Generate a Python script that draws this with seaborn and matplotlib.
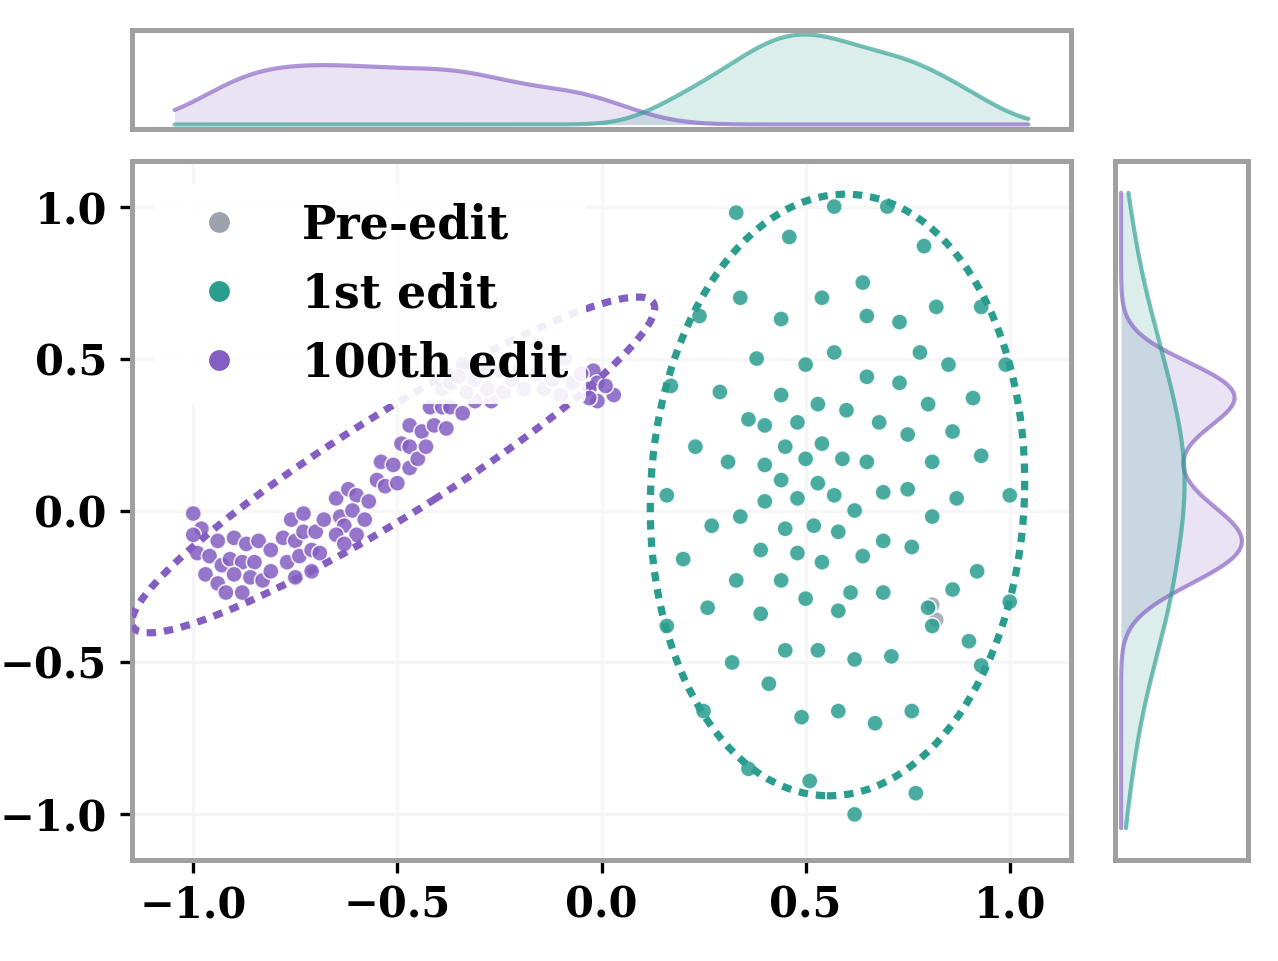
import pandas as pd
import seaborn as sns
import matplotlib.pyplot as plt
from matplotlib.patches import Ellipse
from matplotlib.lines import Line2D

# point clouds
pre_x = [0.81, 0.82]
pre_y = [-0.31, -0.36]

first_x = [0.33, 0.57, 0.70, 0.46, 0.79, 0.64, 0.34, 0.54, 0.82, 0.93,
           0.24, 0.44, 0.65, 0.73, 0.38, 0.57, 0.78, 0.50, 0.85, 0.99,
           0.17, 0.65, 0.73, 0.29, 0.44, 0.91, 0.53, 0.80, 0.60, 0.36,
           0.40, 0.48, 0.68, 0.75, 0.86, 0.23, 0.45, 0.54, 0.93, 0.31,
           0.40, 0.50, 0.59, 0.65, 0.81, 0.44, 0.53, 0.16, 0.40, 0.48,
           0.57, 0.69, 0.75, 0.87, 1.00, 0.62, 0.34, 0.27, 0.45, 0.52,
           0.81, 0.58, 0.69, 0.39, 0.48, 0.76, 0.20, 0.54, 0.64, 0.33,
           0.44, 0.92, 0.61, 0.69, 0.86, 0.50, 0.26, 0.39, 0.58, 0.80,
           0.81, 1.00, 0.16, 0.90, 0.45, 0.53, 0.62, 0.71, 0.32, 0.93,
           0.41, 0.25, 0.49, 0.58, 0.67, 0.76, 0.36, 0.51, 0.77, 0.62]
first_y = [0.98, 1.00, 1.00, 0.90, 0.87, 0.75, 0.70, 0.70, 0.67, 0.67,
           0.64, 0.63, 0.64, 0.62, 0.50, 0.52, 0.52, 0.48, 0.48, 0.48,
           0.41, 0.44, 0.42, 0.39, 0.38, 0.37, 0.35, 0.35, 0.33, 0.30,
           0.28, 0.29, 0.29, 0.25, 0.26, 0.21, 0.21, 0.22, 0.18, 0.16,
           0.15, 0.17, 0.17, 0.16, 0.16, 0.10, 0.09, 0.05, 0.03, 0.04,
           0.05, 0.06, 0.07, 0.04, 0.05, 0.00, -0.02, -0.05, -0.06, -0.05,
           -0.02, -0.07, -0.10, -0.13, -0.14, -0.12, -0.16, -0.17, -0.15, -0.23,
           -0.23, -0.20, -0.27, -0.27, -0.26, -0.29, -0.32, -0.34, -0.33, -0.32,
           -0.38, -0.30, -0.38, -0.43, -0.46, -0.46, -0.49, -0.48, -0.50, -0.51,
           -0.57, -0.66, -0.68, -0.66, -0.70, -0.66, -0.85, -0.89, -0.93, -1.00]

hundredth_x = [-1.00, -0.98, -1.00, -0.99, -0.94, -0.96, -0.93, -0.97, -0.94, -0.92,
               -0.90, -0.87, -0.84, -0.91, -0.88, -0.85, -0.81, -0.90, -0.86, -0.83,
               -0.81, -0.88, -0.78, -0.76, -0.73, -0.75, -0.73, -0.70, -0.77, -0.74,
               -0.71, -0.69, -0.75, -0.71, -0.68, -0.65, -0.62, -0.60, -0.57, -0.64,
               -0.61, -0.58, -0.63, -0.65, -0.60, -0.63, -0.55, -0.53, -0.50, -0.54,
               -0.51, -0.47, -0.49, -0.47, -0.47, -0.44, -0.45, -0.42, -0.39, -0.37,
               -0.34, -0.31, -0.27, -0.41, -0.38, -0.43, -0.02, -0.01, -0.03, 0.03,
               -0.01, 0.01, -0.03, -0.39, -0.37, -0.33, -0.31, -0.34, -0.28, -0.28,
               -0.24, -0.22, -0.19, -0.16, -0.14, -0.12, -0.10, -0.09, -0.07, -0.25,
               -0.20, -0.05, -0.35]
hundredth_y = [-0.01, -0.06, -0.08, -0.14, -0.10, -0.15, -0.18, -0.21, -0.24, -0.27,
               -0.09, -0.11, -0.10, -0.16, -0.17, -0.17, -0.13, -0.21, -0.22, -0.23,
               -0.20, -0.27, -0.09, -0.03, -0.01, -0.10, -0.07, -0.07, -0.17, -0.15,
               -0.13, -0.14, -0.22, -0.20, -0.03, 0.04, 0.07, 0.05, 0.03, -0.02,
               0.00, -0.03, -0.05, -0.08, -0.08, -0.11, 0.10, 0.08, 0.09, 0.16,
               0.15, 0.14, 0.22, 0.21, 0.28, 0.26, 0.17, 0.34, 0.34, 0.34,
               0.32, 0.36, 0.36, 0.28, 0.27, 0.21, 0.46, 0.42, 0.40, 0.38,
               0.36, 0.41, 0.37, 0.40, 0.42, 0.39, 0.43, 0.48, 0.46, 0.40,
               0.39, 0.43, 0.40, 0.45, 0.40, 0.43, 0.38, 0.50, 0.42, 0.46,
               0.47, 0.45, 0.44]

labels = ['Pre-edit', '1st edit', '100th edit']
colors = ['#9ca3af', '#2a9d8f', '#845ec2']
palette = dict(zip(labels, colors))

df = pd.concat([
    pd.DataFrame({'x': pre_x, 'y': pre_y, 'group': labels[0]}),
    pd.DataFrame({'x': first_x, 'y': first_y, 'group': labels[1]}),
    pd.DataFrame({'x': hundredth_x, 'y': hundredth_y, 'group': labels[2]}),
], ignore_index=True)
df_marg = df[df.group != labels[0]]

sns.set_theme(style='ticks')
plt.rcParams['font.family'] = ['DejaVu Serif']
plt.rcParams['font.weight'] = 'bold'
plt.rcParams['text.color'] = 'black'
plt.rcParams['xtick.color'] = 'black'
plt.rcParams['ytick.color'] = 'black'

W, H = 1278, 961
fig = plt.figure(figsize=(W / 200, H / 200), dpi=200)
ax = fig.add_axes([132 / W, 1 - 860 / H, 939 / W, 699 / H])
ax_top = fig.add_axes([132 / W, 1 - 129 / H, 939 / W, 99 / H])
ax_right = fig.add_axes([1115 / W, 1 - 860 / H, 133 / W, 699 / H])

# main scatter
ax.grid(True, color='#f6f6f6', lw=1.2)
ax.set_axisbelow(True)
sns.scatterplot(data=df, x='x', y='y', hue='group', palette=palette, s=34,
                alpha=0.85, edgecolor='white', linewidth=0.6, legend=False, ax=ax)

# dotted ellipses around the two edit clusters
ax.add_patch(Ellipse((0.578, 0.051), 0.916, 1.98, angle=-1.5, fill=False,
                     ls=(0, (1.3, 1.1)), lw=2.6, edgecolor=colors[1], zorder=3))
ax.add_patch(Ellipse((-0.51, 0.15), 1.664, 0.303, angle=40.5, fill=False,
                     ls=(0, (1.3, 1.1)), lw=2.6, edgecolor=colors[2], zorder=3))

# marginal densities (own limits, common grid clipped to +-1.1)
hue_order = labels[1:]
for axm, var in [(ax_top, 'x'), (ax_right, 'y')]:
    kw = {var: var}
    sns.kdeplot(data=df_marg, **kw, hue='group', hue_order=hue_order, palette=palette,
                fill=True, alpha=0.17, linewidth=0, common_norm=False, common_grid=True,
                clip=(-1.1, 1.1), legend=False, ax=axm)
    sns.kdeplot(data=df_marg, **kw, hue='group', hue_order=hue_order, palette=palette,
                alpha=0.65, linewidth=1.5, common_norm=False, common_grid=True,
                clip=(-1.1, 1.1), legend=False, ax=axm)
    axm.use_sticky_edges = False
    axm.margins(0.05)
    axm.autoscale_view()
    axm.tick_params(left=False, bottom=False, labelleft=False, labelbottom=False)
    axm.set_xlabel('')
    axm.set_ylabel('')

for a in [ax, ax_top, ax_right]:
    for sp in a.spines.values():
        sp.set_visible(True)
        sp.set_color('#a0a0a0')
        sp.set_linewidth(1.8)

ax.set_xlim(-1.15, 1.15)
ax.set_ylim(-1.15, 1.15)
ax.set_xticks([-1.0, -0.5, 0.0, 0.5, 1.0])
ax.set_yticks([-1.0, -0.5, 0.0, 0.5, 1.0])
ax.tick_params(labelsize=15, length=4.5, width=1.2, pad=4.5, color='black')
ax.set_xlabel('')
ax.set_ylabel('')

handles = [Line2D([], [], marker='o', ls='', color=c, markersize=8,
                  markeredgecolor='white', markeredgewidth=0.5) for c in colors]
ax.legend(handles, labels, loc='upper left', fontsize=16.5, frameon=True,
          framealpha=0.9, facecolor='white', edgecolor='none')

fig.savefig('out.png', dpi=200)
